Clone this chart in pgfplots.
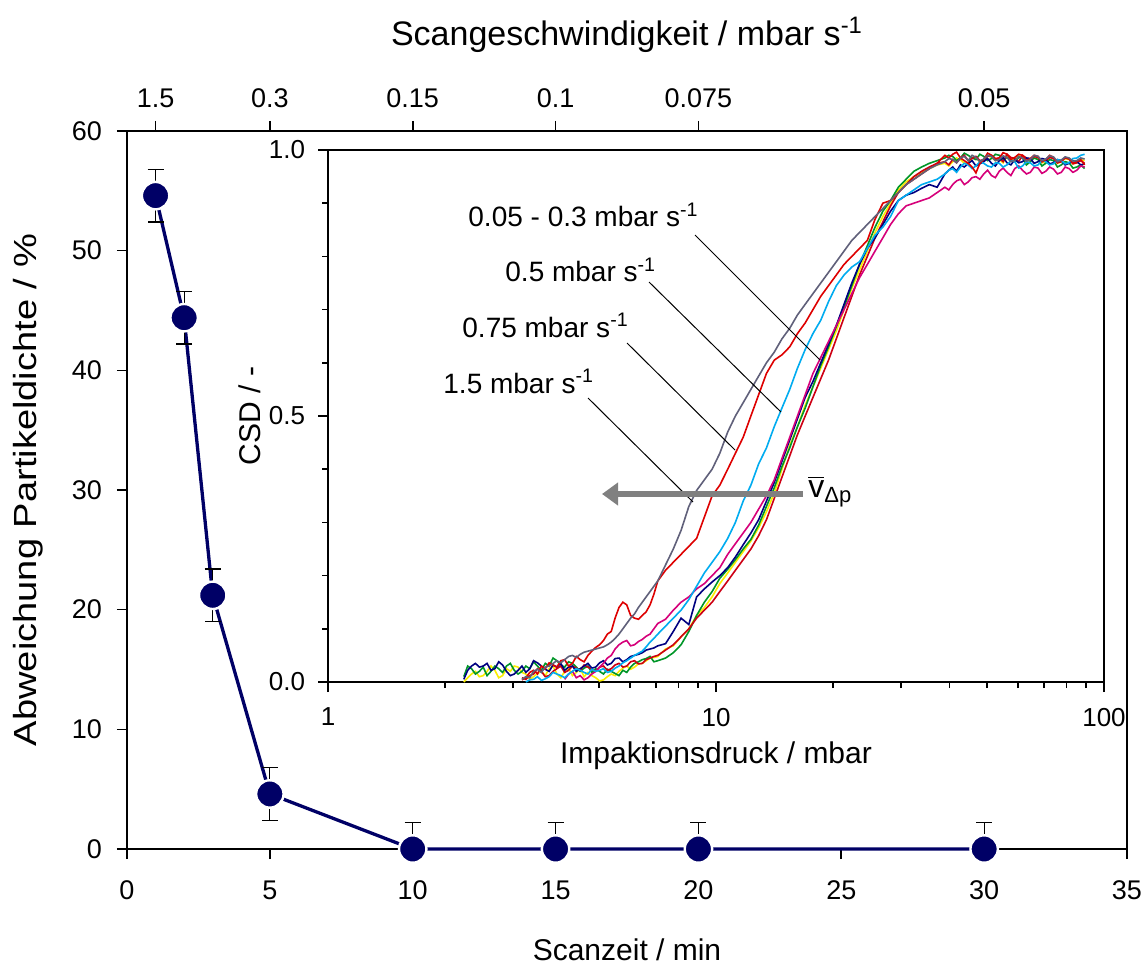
\documentclass[border=0pt]{standalone}
\usepackage{fontspec}
\setmainfont{Liberation Sans}
\usepackage{graphicx}
\usepackage{pgfplots}
\pgfplotsset{compat=1.18}
\usepackage{pgfplotstable}
\usetikzlibrary{arrows.meta}

\definecolor{devblue}{RGB}{0,0,102}
\definecolor{cgray}{RGB}{96,96,122}
\definecolor{cred}{RGB}{222,0,0}
\definecolor{ccyan}{RGB}{0,172,240}
\definecolor{cmag}{RGB}{214,0,122}
\definecolor{cnavy}{RGB}{0,0,128}
\definecolor{cyel}{RGB}{250,238,0}
\definecolor{cgrn}{RGB}{0,150,40}
\definecolor{credb}{RGB}{205,0,20}
\definecolor{arrowgray}{RGB}{128,128,128}

% deviation of particle density vs. scan time
\pgfplotstableread{
t    dev   eplus eminus
1    54.6  2.2   2.2
2    44.4  2.2   2.2
3    21.2  2.2   2.2
5    4.6   2.2   2.2
10   0     2.2   0
15   0     2.2   0
20   0     2.2   0
30   0     2.2   0
}\devtable

% cumulative size distribution vs. impaction pressure
\pgfplotstableread{
p      gray  red   cyan  mag   navy  yel   grn   redb
2.239  nan   nan   nan   nan   0.005 0.000 0.010 nan
2.291  nan   nan   nan   nan   0.022 0.008 0.030 nan
2.344  nan   nan   nan   nan   0.030 0.015 0.025 nan
2.399  nan   nan   nan   nan   0.035 0.020 0.015 nan
2.455  nan   nan   nan   nan   0.028 0.010 0.020 nan
2.512  nan   nan   nan   nan   0.030 0.012 0.028 nan
2.570  nan   nan   nan   nan   0.035 0.020 0.012 nan
2.630  nan   nan   nan   nan   0.022 0.030 0.020 nan
2.692  nan   nan   nan   nan   0.025 0.022 0.030 nan
2.754  nan   nan   nan   nan   0.038 0.008 0.025 nan
2.818  nan   nan   nan   nan   0.032 0.012 0.018 nan
2.884  nan   nan   nan   nan   0.020 0.025 0.030 nan
2.951  nan   nan   nan   nan   0.012 0.020 0.035 nan
3.020  nan   nan   nan   nan   0.015 0.030 0.022 nan
3.090  nan   nan   nan   nan   0.022 0.028 0.015 nan
3.162  0.005 0.004 nan   nan   0.030 0.018 0.020 0.008
3.236  0.010 0.008 0.000 nan   0.018 0.015 0.030 0.005
3.311  0.008 0.018 0.004 nan   0.025 0.005 0.025 0.012
3.388  0.020 0.022 0.005 nan   0.040 0.010 0.038 0.015
3.467  0.024 0.015 0.010 nan   0.036 0.016 0.030 0.025
3.548  0.018 0.030 0.003 nan   0.030 0.020 0.022 0.020
3.631  0.028 0.025 0.006 nan   0.024 0.012 0.035 0.010
3.715  0.030 0.036 0.010 nan   0.020 0.025 0.030 0.012
3.802  0.035 0.032 0.018 nan   0.032 0.030 0.045 0.020
3.890  0.040 0.028 0.015 nan   0.028 0.015 0.040 0.025
3.981  0.036 0.040 0.012 nan   0.035 0.008 0.032 0.030
4.074  0.042 0.042 0.008 0.005 0.022 0.020 0.028 0.018
4.169  0.048 0.030 0.015 0.015 0.028 0.026 0.038 0.022
4.266  0.050 0.035 0.020 0.020 0.030 0.012 0.035 0.030
4.365  0.046 0.048 0.025 0.008 0.020 0.018 0.028 0.026
4.467  0.052 0.042 0.022 0.012 0.025 0.025 0.020 0.022
4.571  0.056 0.038 0.018 0.004 0.030 0.010 0.026 0.032
4.677  0.058 0.050 0.015 0.008 0.035 0.018 0.030 0.028
4.786  0.060 0.058 0.024 0.015 0.026 0.012 0.018 0.024
4.898  0.062 0.065 0.020 0.020 0.028 0.008 0.025 0.020
5.012  0.064 0.070 0.022 0.028 0.036 0.002 0.020 0.028
5.129  0.066 0.078 0.025 0.035 0.040 0.004 0.015 0.030
5.248  0.070 0.090 0.018 0.045 0.032 0.010 0.024 0.022
5.370  0.075 0.095 0.020 0.050 0.035 0.015 0.020 0.025
5.495  0.082 0.120 0.026 0.062 0.044 0.012 0.016 0.032
5.623  0.090 0.140 0.030 0.070 0.045 0.020 0.012 0.035
5.754  0.100 0.150 0.036 0.075 0.038 0.026 0.022 0.028
5.888  0.110 0.145 0.040 0.078 0.042 0.030 0.018 0.030
6.026  0.120 0.125 0.045 0.068 0.048 0.024 0.028 0.038
6.166  0.128 0.120 0.050 0.070 0.050 0.028 0.035 0.040
6.310  0.140 0.118 0.054 0.076 0.052 0.034 0.038 0.034
6.457  0.150 0.125 0.058 0.080 0.055 0.035 0.042 0.035
6.607  0.160 0.132 0.066 0.086 0.060 0.040 0.044 0.042
6.761  0.170 0.145 0.075 0.090 0.062 0.045 0.048 0.045
6.918  0.180 0.165 0.082 0.100 0.064 0.046 0.038 0.048
7.079  0.190 0.190 0.090 0.110 0.068 0.048 0.040 0.050
7.413  0.220 0.210 0.105 0.118 0.072 0.062 0.045 0.060
7.762  0.250 0.225 0.120 0.135 0.095 0.068 0.055 0.070
8.128  0.285 0.240 0.135 0.150 0.120 0.085 0.070 0.085
8.511  0.330 0.255 0.155 0.160 0.108 0.100 0.095 0.100
8.913  0.360 0.270 0.180 0.175 0.160 0.125 0.125 0.120
9.333  0.380 0.310 0.205 0.185 0.175 0.140 0.150 0.135
9.772  0.400 0.350 0.225 0.200 0.188 0.160 0.170 0.150
10.23  0.430 0.370 0.245 0.215 0.200 0.185 0.195 0.170
10.72  0.470 0.400 0.270 0.240 0.215 0.205 0.212 0.190
11.22  0.500 0.430 0.300 0.260 0.235 0.225 0.230 0.210
11.75  0.525 0.460 0.340 0.280 0.258 0.245 0.250 0.230
12.30  0.550 0.500 0.370 0.300 0.280 0.265 0.268 0.250
12.88  0.575 0.540 0.410 0.325 0.305 0.290 0.295 0.275
13.49  0.600 0.580 0.440 0.350 0.340 0.320 0.330 0.305
14.13  0.620 0.605 0.480 0.380 0.375 0.355 0.365 0.345
14.79  0.645 0.615 0.515 0.420 0.415 0.400 0.405 0.385
15.49  0.665 0.630 0.550 0.460 0.455 0.445 0.440 0.425
16.22  0.690 0.655 0.590 0.500 0.495 0.480 0.480 0.465
16.98  0.710 0.675 0.625 0.540 0.535 0.520 0.515 0.500
17.78  0.730 0.700 0.655 0.580 0.565 0.555 0.555 0.535
18.62  0.750 0.725 0.680 0.610 0.600 0.590 0.595 0.570
19.50  0.770 0.745 0.715 0.640 0.635 0.625 0.630 0.605
20.42  0.790 0.765 0.745 0.670 0.670 0.660 0.668 0.645
21.38  0.810 0.785 0.765 0.700 0.710 0.700 0.705 0.685
22.39  0.830 0.800 0.780 0.730 0.750 0.740 0.745 0.725
23.44  0.845 0.815 0.790 0.760 0.785 0.775 0.785 0.765
24.55  0.860 0.830 0.815 0.785 0.815 0.810 0.820 0.800
25.70  0.875 0.870 0.840 0.810 0.835 0.845 0.855 0.835
26.92  0.890 0.900 0.855 0.835 0.860 0.875 0.885 0.865
28.18  0.905 0.905 0.875 0.860 0.885 0.900 0.905 0.895
29.51  0.920 0.920 0.905 0.880 0.905 0.925 0.930 0.920
30.90  0.935 0.935 0.915 0.895 0.915 0.940 0.945 0.935
32.36  0.945 0.945 0.925 0.900 0.920 0.950 0.960 0.950
33.88  0.955 0.955 0.935 0.905 0.928 0.958 0.968 0.960
35.48  0.965 0.965 0.940 0.910 0.935 0.965 0.975 0.968
37.15  0.972 0.975 0.945 0.920 0.930 0.972 0.980 0.975
38.90  0.978 0.990 0.955 0.930 0.955 0.975 0.985 0.978
39.81  0.984 0.985 0.962 0.925 0.962 0.970 0.990 0.972
40.74  0.982 0.992 0.965 0.935 0.968 0.978 0.988 0.982
41.69  0.976 0.996 0.958 0.942 0.960 0.985 0.980 0.976
42.66  0.985 0.985 0.968 0.945 0.972 0.982 0.985 0.985
43.65  0.988 0.980 0.975 0.935 0.968 0.975 0.994 0.990
44.67  0.980 0.975 0.972 0.940 0.975 0.976 0.990 0.980
45.71  0.990 0.968 0.965 0.948 0.980 0.986 0.985 0.984
46.77  0.986 0.957 0.970 0.950 0.970 0.985 0.982 0.988
47.86  0.978 0.975 0.978 0.945 0.974 0.978 0.992 0.980
48.98  0.983 0.982 0.975 0.955 0.978 0.980 0.988 0.982
50.12  0.990 0.994 0.970 0.962 0.984 0.990 0.980 0.988
51.29  0.988 0.990 0.968 0.952 0.975 0.986 0.984 0.990
52.48  0.980 0.984 0.976 0.948 0.970 0.980 0.992 0.982
53.70  0.982 0.985 0.975 0.960 0.980 0.982 0.990 0.985
54.95  0.989 0.995 0.968 0.966 0.986 0.976 0.982 0.978
56.23  0.986 0.992 0.972 0.958 0.976 0.988 0.986 0.992
57.54  0.978 0.982 0.980 0.952 0.972 0.984 0.980 0.986
58.88  0.980 0.986 0.978 0.965 0.982 0.980 0.978 0.984
60.26  0.988 0.992 0.966 0.970 0.976 0.990 0.986 0.978
61.66  0.985 0.990 0.970 0.962 0.978 0.986 0.985 0.990
63.10  0.979 0.980 0.978 0.955 0.985 0.978 0.972 0.985
64.57  0.982 0.984 0.976 0.958 0.984 0.980 0.978 0.982
66.07  0.990 0.990 0.970 0.968 0.975 0.988 0.985 0.988
67.61  0.988 0.988 0.972 0.966 0.978 0.984 0.982 0.986
69.18  0.980 0.978 0.980 0.956 0.984 0.976 0.970 0.978
70.79  0.983 0.982 0.978 0.960 0.982 0.978 0.975 0.980
72.44  0.989 0.990 0.972 0.968 0.974 0.986 0.982 0.986
74.13  0.987 0.986 0.974 0.964 0.976 0.985 0.980 0.984
75.86  0.978 0.976 0.982 0.955 0.982 0.975 0.968 0.976
77.62  0.981 0.980 0.980 0.958 0.980 0.978 0.972 0.978
79.43  0.987 0.986 0.974 0.968 0.972 0.984 0.978 0.985
81.28  0.985 0.984 0.976 0.965 0.975 0.982 0.976 0.983
83.18  0.979 0.975 0.984 0.958 0.980 0.974 0.966 0.974
85.11  0.980 0.978 0.985 0.962 0.978 0.976 0.968 0.976
87.10  0.985 0.982 0.990 0.970 0.972 0.982 0.972 0.980
89.13  0.983 0.972 0.992 0.968 0.974 0.980 0.965 0.975
}\csdtable

\begin{document}
\begin{tikzpicture}
\path[use as bounding box] (0,0) rectangle (573pt,483pt);

% main axis: deviation vs scan time
\begin{axis}[
  scale only axis, width=500pt, height=359pt,
  at={(63.5pt,58.5pt)}, anchor=south west,
  xmin=0, xmax=35, ymin=0, ymax=60,
  xtick={0,5,...,35}, ytick={0,10,...,60},
  tick pos=left, tick align=outside, major tick length=5pt,
  axis line style={line width=0.8pt},
  every tick/.style={black, line width=0.8pt},
  /pgf/number format/assume math mode=true,
  ticklabel style={font=\fontsize{13.5}{14}\selectfont},
  xticklabel style={yshift=-7.5pt},
  yticklabel style={xshift=-4pt},
  xlabel={Scanzeit / min},
  ylabel={\scalebox{1.19}[1]{Abweichung Partikeldichte / \%}},
  xlabel style={font=\fontsize{15}{16}\selectfont,
    at={(axis description cs:0.5,-0.1407)}, anchor=center},
  ylabel style={font=\fontsize{16}{17}\selectfont,
    at={(axis description cs:-0.099,0.5)}, anchor=center},
  clip=false,
]
\addplot[devblue, line width=1.65pt,
  mark=*, mark size=6.85pt,
  mark options={fill=devblue, draw=white, line width=1.2pt},
  error bars/.cd, y dir=both, y explicit,
  error bar style={black, line width=0.6pt},
  error mark options={rotate=90, black, line width=0.6pt, mark size=4pt}]
  table[x=t, y=dev, y error plus=eplus, y error minus=eminus] {\devtable};
\end{axis}

% top axis: scan speed
\begin{axis}[
  scale only axis, width=500pt, height=359pt,
  at={(63.5pt,58.5pt)}, anchor=south west,
  xmin=0, xmax=35, ymin=0, ymax=60,
  axis x line*=top, axis y line=none,
  xtick={1,5,10,15,20,30},
  xticklabels={1.5,0.3,0.15,0.1,0.075,0.05},
  tick align=outside, major tick length=5pt,
  axis line style={line width=0.8pt},
  every tick/.style={black, line width=0.8pt},
  ticklabel style={font=\fontsize{13.5}{14}\selectfont},
  xticklabel style={yshift=3pt},
  xlabel={Scangeschwindigkeit / mbar s\textsuperscript{-1}},
  xlabel style={font=\fontsize{17}{18}\selectfont,
    at={(axis description cs:0.5,1.1337)}, anchor=center},
]
\end{axis}

% inset: CSD vs impaction pressure
\begin{axis}[
  scale only axis, width=388pt, height=266pt,
  at={(164pt,142pt)}, anchor=south west,
  xmode=log, xmin=1, xmax=100, ymin=0, ymax=1,
  axis background/.style={fill=white},
  xtick={1,10,100}, xticklabels={1,10,100},
  minor xtick={2,3,4,5,6,7,8,9,20,30,40,50,60,70,80,90},
  ytick={0,0.5,1}, yticklabels={0.0,0.5,1.0},
  minor ytick={0.1,0.2,0.3,0.4,0.6,0.7,0.8,0.9},
  tick pos=left, tick align=outside,
  major tick length=5pt, minor tick length=3pt,
  axis line style={line width=0.8pt},
  every tick/.style={black, line width=0.8pt},
  ticklabel style={font=\fontsize{13}{14}\selectfont},
  xticklabel style={yshift=-4.5pt},
  yticklabel style={xshift=-3pt},
  label style={font=\fontsize{15}{16}\selectfont},
  xlabel={Impaktionsdruck / mbar},
  ylabel={CSD / -},
  xlabel style={at={(axis description cs:0.5,-0.139)}, anchor=center},
  ylabel style={at={(axis description cs:-0.1005,0.5)}, anchor=center},
  unbounded coords=discard,
]
\addplot[cyel,  line width=0.8pt] table[x=p, y=yel]  {\csdtable};
\addplot[cgrn,  line width=0.8pt] table[x=p, y=grn]  {\csdtable};
\addplot[credb, line width=0.8pt] table[x=p, y=redb] {\csdtable};
\addplot[cnavy, line width=0.8pt] table[x=p, y=navy] {\csdtable};
\addplot[cmag,  line width=0.8pt] table[x=p, y=mag]  {\csdtable};
\addplot[ccyan, line width=0.8pt] table[x=p, y=cyan] {\csdtable};
\addplot[cred,  line width=0.8pt] table[x=p, y=red]  {\csdtable};
\addplot[cgray, line width=0.8pt] table[x=p, y=gray] {\csdtable};
\end{axis}

% annotations in the inset
\begin{scope}[font=\fontsize{14}{15}\selectfont]
\node[anchor=base west, inner sep=0] at (234pt,369.5pt) {0.05 - 0.3 mbar s\textsuperscript{-1}};
\node[anchor=base west, inner sep=0] at (252.5pt,342pt) {0.5 mbar s\textsuperscript{-1}};
\node[anchor=base west, inner sep=0] at (231pt,314.5pt) {0.75 mbar s\textsuperscript{-1}};
\node[anchor=base west, inner sep=0] at (221.5pt,286.5pt) {1.5 mbar s\textsuperscript{-1}};
\end{scope}
\draw[black, line width=0.5pt] (347.5pt,365.5pt) -- (410pt,303pt);
\draw[black, line width=0.5pt] (324.5pt,342pt) -- (390.5pt,277pt);
\draw[black, line width=0.5pt] (313.5pt,311.5pt) -- (367.5pt,258pt);
\draw[black, line width=0.5pt] (294pt,284pt) -- (346.5pt,232pt);

\draw[arrowgray, line width=3pt, -{Triangle[length=8pt, width=11pt]}]
  (401.5pt,236pt) -- (301pt,236pt);
\node[anchor=west, inner sep=0, font=\fontsize{16}{17}\selectfont] at (404pt,237pt)
  {$\overline{\hbox{v}}_{\hbox{\fontsize{11}{12}\selectfont Δp}}$};
\end{tikzpicture}
\end{document}
